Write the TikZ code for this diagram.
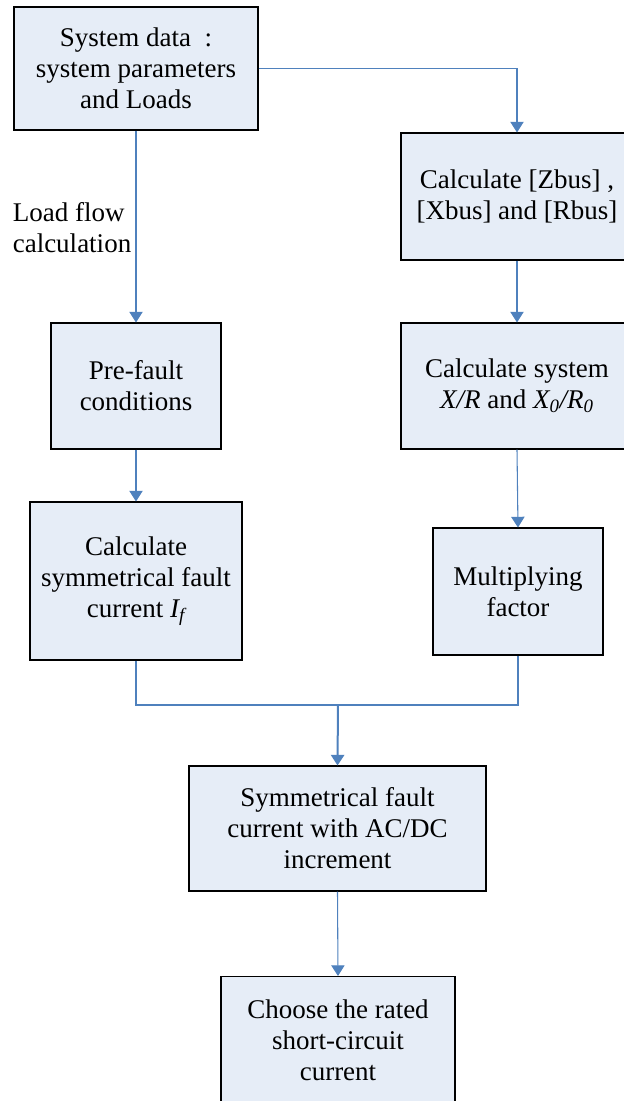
\documentclass[tikz,border=0pt]{standalone}
\usepackage{fontspec}
\setmainfont{Liberation Serif}
\usetikzlibrary{arrows.meta}
\definecolor{boxfill}{RGB}{230,237,247}
\definecolor{flowline}{RGB}{79,129,189}
\tikzset{every picture/.style={line width=0.75pt}}
\tikzset{
	flowbox/.style={draw=black, fill=boxfill, line width=0.8pt, align=center, inner sep=0pt,
		font=\fontsize{20.25}{23.25}\selectfont},
	flowarrow/.style={draw=flowline, line width=0.8pt, -{Triangle[width=10pt,length=8pt]}},
	flowjoin/.style={draw=flowline, line width=0.8pt}}

\begin{document}
\begin{tikzpicture}[x=0.75pt,y=0.75pt,yscale=-1,xscale=1]
	\useasboundingbox (0,0) rectangle (624,1101);

	%Shape: Rectangle [id:sysdata]
	\node [flowbox, minimum width=183pt, minimum height=92.25pt] (sysdata) at (136,68.5) {System data\enspace:\\system parameters\\and Loads};
	%Shape: Rectangle [id:zbus]
	\node [flowbox, minimum width=174pt, minimum height=95.25pt] (zbus) at (517,196.5) {Calculate [Zbus] ,\\{}[Xbus] and [Rbus]};
	%Shape: Rectangle [id:xrratio]
	\node [flowbox, minimum width=174pt, minimum height=94.5pt] (xrratio) at (517,386) {Calculate system\\\textit{X/R} and \textit{X\textsubscript{0}/R\textsubscript{0}}};
	%Shape: Rectangle [id:multfac]
	\node [flowbox, minimum width=127.5pt, minimum height=95.25pt] (multfac) at (518,591.5) {Multiplying\\factor};
	%Shape: Rectangle [id:prefault]
	\node [flowbox, minimum width=127.5pt, minimum height=94.5pt] (prefault) at (136,386) {Pre-fault\\conditions};
	%Shape: Rectangle [id:symfault]
	\node [flowbox, minimum width=159pt, minimum height=118.5pt] (symfault) at (136,581) {Calculate\\symmetrical fault\\current \textit{I\textsubscript{f}}};
	%Shape: Rectangle [id:acdc]
	\node [flowbox, minimum width=222.75pt, minimum height=93.75pt] (acdc) at (337.5,828.5) {Symmetrical fault\\current with AC/DC\\increment};
	%Shape: Rectangle [id:rated]
	\node [flowbox, minimum width=175.5pt, minimum height=95.25pt] (rated) at (338,1040) {Choose the rated\\short-circuit\\current};

	%Straight Lines
	\draw [flowarrow] (sysdata.south) -- (prefault.north);
	\draw [flowarrow] (sysdata.east) -| (zbus.north);
	\draw [flowarrow] (zbus.south) -- (xrratio.north);
	\draw [flowarrow] (xrratio.south) -- (multfac.north);
	\draw [flowarrow] (prefault.south) -- (symfault.north);
	%Joining Lines
	\coordinate (merge) at (338,705);
	\draw [flowjoin] (symfault.south) |- (merge) -| (multfac.south);
	\draw [flowarrow, line width=1.5pt] (merge) -- (acdc.north);
	\draw [flowarrow] (acdc.south) -- (rated.north);

	% Text Node
	\node [align=left, font=\fontsize{20.25}{23.25}\selectfont] (loadflow) at (72,228) {Load flow\\calculation};

\end{tikzpicture}
\end{document}
